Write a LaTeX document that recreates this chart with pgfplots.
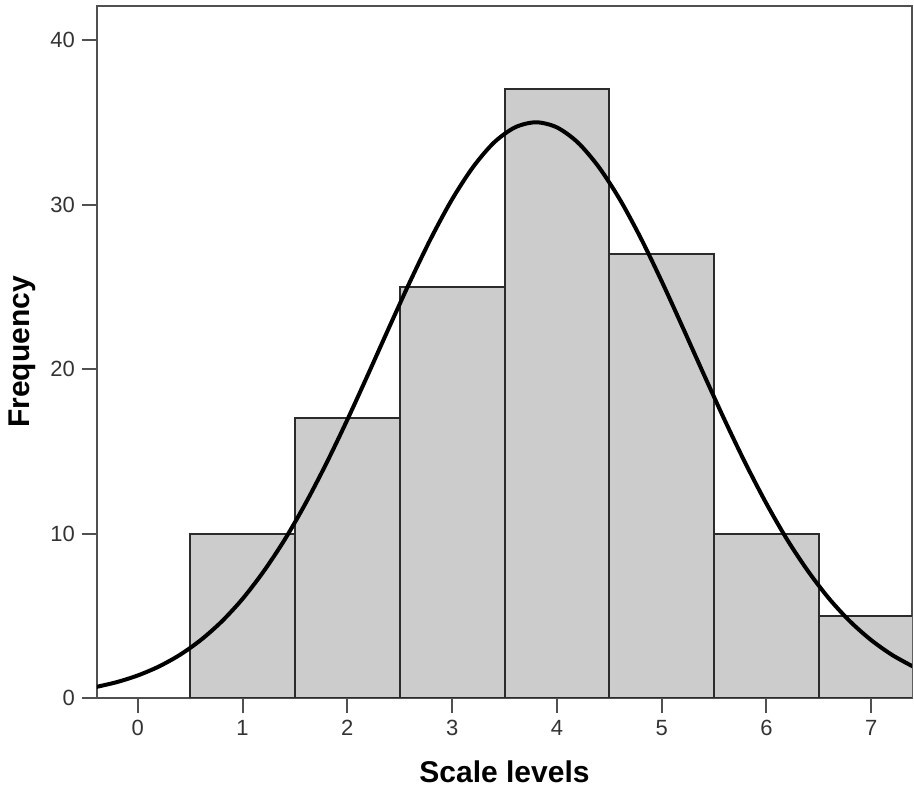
\documentclass[border=0pt]{standalone}
\usepackage{fontspec}
\setmainfont{Liberation Sans}
\usepackage{pgfplots}
\pgfplotsset{compat=1.18}
\usetikzlibrary{calc}
\definecolor{barfill}{HTML}{CCCCCC}
\definecolor{baredge}{HTML}{2B2B2B}
\definecolor{frame}{HTML}{505050}

\begin{document}
\begin{tikzpicture}
\begin{axis}[
    scale only axis,
    width=407.5pt,
    height=346pt,
    xmin=-0.39, xmax=7.39,
    ymin=0, ymax=42.07,
    xtick={0,1,2,3,4,5,6,7},
    ytick={0,10,20,30,40},
    xtick pos=bottom,
    ytick pos=left,
    tick align=outside,
    major tick length=7.5pt,
    every tick/.style={frame, line width=1pt},
    axis line style={frame, line width=1pt},
    /pgf/number format/assume math mode=true,
    ticklabel style={font=\fontsize{11}{13}\selectfont, text=black!80},
    xlabel={Scale levels},
    ylabel={Frequency},
    label style={font=\fontsize{15}{18}\selectfont\bfseries},
    xlabel style={at={(axis description cs:0.5,-0.107)}, anchor=center},
    ylabel style={at={(axis description cs:-0.092,0.5)}, anchor=center, rotate=0},
]
% histogram counts
\addplot[ybar, bar width=1, bar shift=0pt, fill=barfill, draw=baredge, line width=1pt] coordinates {
    (1,10) (2,17) (3,25) (4,37) (5,27) (6,10) (7,5)
};
% fitted normal curve
\addplot[black, line width=2pt, smooth] coordinates {
    (-0.4,0.669) (-0.2,0.967) (0.0,1.372) (0.2,1.912) (0.4,2.618) (0.6,3.521)
    (0.8,4.648) (1.0,6.03) (1.2,7.69) (1.4,9.61) (1.6,11.82) (1.8,14.27)
    (2.0,16.92) (2.2,19.71) (2.4,22.55) (2.6,25.34) (2.8,27.97) (3.0,30.32)
    (3.2,32.28) (3.4,33.77) (3.6,34.69) (3.8,35.0) (4.0,34.69) (4.2,33.77)
    (4.4,32.28) (4.6,30.32) (4.8,27.97) (5.0,25.34) (5.2,22.55) (5.4,19.71)
    (5.6,16.92) (5.8,14.27) (6.0,11.82) (6.2,9.61) (6.4,7.69) (6.6,6.03)
    (6.8,4.648) (7.0,3.521) (7.2,2.618) (7.4,1.912)
};
\end{axis}
\pgfresetboundingbox
\path ($(current axis.south west)+(-48.5pt,-46pt)$) rectangle ($(current axis.north east)+(1pt,3pt)$);
\end{tikzpicture}
\end{document}
